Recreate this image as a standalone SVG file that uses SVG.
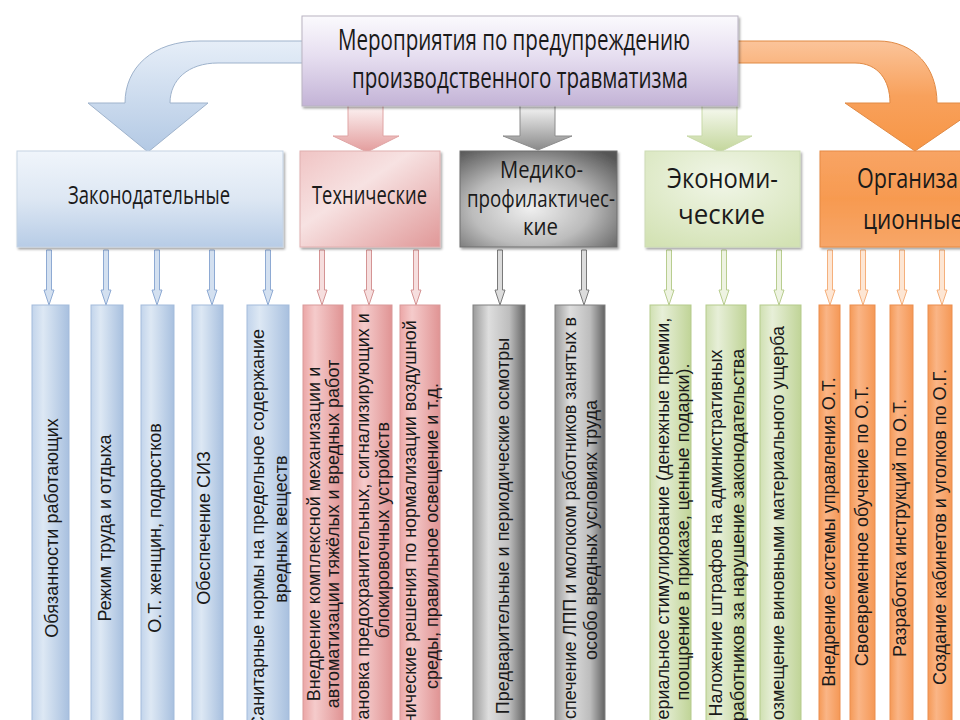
<svg xmlns="http://www.w3.org/2000/svg" width="960" height="720" viewBox="0 0 960 720">
<defs>
<linearGradient id="gTop" x1="0" y1="0" x2="0" y2="1"><stop offset="0" stop-color="#fbfafd"/><stop offset="0.45" stop-color="#e6def0"/><stop offset="1" stop-color="#c3b3d6"/></linearGradient>
<linearGradient id="gBlueHdr" x1="0" y1="0" x2="0" y2="1"><stop offset="0" stop-color="#f0f5fb"/><stop offset="0.5" stop-color="#dde7f3"/><stop offset="1" stop-color="#b7cce6"/></linearGradient>
<linearGradient id="gPinkHdr" x1="0" y1="0" x2="1" y2="1"><stop offset="0" stop-color="#f0c4c4"/><stop offset="0.4" stop-color="#f7e2e2"/><stop offset="1" stop-color="#e09898"/></linearGradient>
<radialGradient id="gGrayHdr" cx="0.45" cy="0.6" r="0.75"><stop offset="0" stop-color="#efefef"/><stop offset="0.5" stop-color="#bcbcbc"/><stop offset="1" stop-color="#555555"/></radialGradient>
<radialGradient id="gGreenHdr" cx="0.5" cy="0.3" r="0.8"><stop offset="0" stop-color="#f1f6e8"/><stop offset="1" stop-color="#d3e2b4"/></radialGradient>
<linearGradient id="gOrangeHdr" x1="0" y1="0" x2="0" y2="1"><stop offset="0" stop-color="#f8a464"/><stop offset="0.5" stop-color="#f79a50"/><stop offset="1" stop-color="#f7a668"/></linearGradient>
<linearGradient id="gBlueCol" x1="0" y1="0" x2="1" y2="0"><stop offset="0" stop-color="#c2d4eb"/><stop offset="0.3" stop-color="#dde8f4"/><stop offset="1" stop-color="#a8c0df"/></linearGradient>
<linearGradient id="gPinkCol" x1="0" y1="0" x2="1" y2="0"><stop offset="0" stop-color="#eba6a6"/><stop offset="0.3" stop-color="#f5cbcb"/><stop offset="1" stop-color="#e09494"/></linearGradient>
<linearGradient id="gGrayCol" x1="0" y1="0" x2="1" y2="0"><stop offset="0" stop-color="#9a9a9a"/><stop offset="0.3" stop-color="#dedede"/><stop offset="0.7" stop-color="#bdbdbd"/><stop offset="1" stop-color="#636363"/></linearGradient>
<linearGradient id="gGreenCol" x1="0" y1="0" x2="1" y2="0"><stop offset="0" stop-color="#d0e0b2"/><stop offset="0.3" stop-color="#e7efd8"/><stop offset="1" stop-color="#c0d497"/></linearGradient>
<linearGradient id="gOrangeCol" x1="0" y1="0" x2="1" y2="0"><stop offset="0" stop-color="#f59a58"/><stop offset="0.35" stop-color="#fab586"/><stop offset="1" stop-color="#f59856"/></linearGradient>
<linearGradient id="gBlueArr" x1="0" y1="0" x2="0" y2="1"><stop offset="0" stop-color="#e6eef8"/><stop offset="1" stop-color="#b3c9e4"/></linearGradient>
<linearGradient id="gOrangeArr" x1="0" y1="0" x2="0" y2="1"><stop offset="0" stop-color="#fbc49a"/><stop offset="0.5" stop-color="#f8a15c"/><stop offset="1" stop-color="#f79646"/></linearGradient>
<linearGradient id="gPinkArr" x1="0" y1="0" x2="0" y2="1"><stop offset="0" stop-color="#fdf6f6"/><stop offset="1" stop-color="#e39c9c"/></linearGradient>
<linearGradient id="gGrayArr" x1="0" y1="0" x2="0" y2="1"><stop offset="0" stop-color="#fafafa"/><stop offset="1" stop-color="#8a8a8a"/></linearGradient>
<linearGradient id="gGreenArr" x1="0" y1="0" x2="0" y2="1"><stop offset="0" stop-color="#f9fbf4"/><stop offset="1" stop-color="#c3d69b"/></linearGradient>
<filter id="sh" x="-10%" y="-10%" width="130%" height="130%"><feDropShadow dx="1.5" dy="2" stdDeviation="1.2" flood-color="#000" flood-opacity="0.35"/></filter>
<style>
.hdr{font-family:"Open Sans","Noto Sans",sans-serif;fill:#1a1a1a;}
.item{font-family:"Liberation Sans",Arial,sans-serif;font-size:18px;fill:#1a1a1a;text-anchor:middle;}
.conB{fill:#d3e0f0;stroke:#8eaad3;stroke-width:1;}
.conP{fill:#f6dede;stroke:#d49494;stroke-width:1;}
.conG{fill:#dcdcdc;stroke:#7a7a7a;stroke-width:1;}
.conE{fill:#eef3e2;stroke:#b8cd8f;stroke-width:1;}
.conO{fill:#fde6d4;stroke:#f5b07c;stroke-width:1;}
.colB{fill:url(#gBlueCol);stroke:#a3bbdb;stroke-width:1;}
.colP{fill:url(#gPinkCol);stroke:#d99a9a;stroke-width:1;}
.colG{fill:url(#gGrayCol);stroke:#808080;stroke-width:1;}
.colE{fill:url(#gGreenCol);stroke:#b5cb8c;stroke-width:1;}
.colO{fill:url(#gOrangeCol);stroke:#eb8e4e;stroke-width:1;}
</style>
</defs>
<rect width="960" height="720" fill="#ffffff"/>

<g id="connectors">
  <path d="M310,41 L200,41 C152,41 125,68 125,103 L88,103 L148,152 L208,103 L170,103 C170,80 188,63 218,63 L310,63 Z" fill="url(#gBlueArr)" stroke="#9fb3cc" stroke-width="1"/>
  <path d="M730,41 L878,41 C915,41 937,68 937,103 L985,103 L915,151 L845,103 L890,103 C890,80 878,63 855,63 L730,63 Z" fill="url(#gOrangeArr)" stroke="#e08a45" stroke-width="1"/>
  <path d="M348,104 L383,104 L383,136 L399,136 L367,152 L333,136 L348,136 Z" fill="url(#gPinkArr)" stroke="#e0a4a4" stroke-width="1"/>
  <path d="M520,104 L555,104 L555,136 L572,136 L538,150 L503,136 L520,136 Z" fill="url(#gGrayArr)" stroke="#8c8c8c" stroke-width="1"/>
  <path d="M702,104 L737,104 L737,136 L752,136 L720,152 L687,136 L702,136 Z" fill="url(#gGreenArr)" stroke="#c8d9a8" stroke-width="1"/>
  <g class="conB">
    <path d="M46.5,250 L51.5,250 L51.5,290 L54,290 L49,305 L44,290 L46.5,290 Z"/>
    <path d="M103.5,250 L108.5,250 L108.5,290 L111,290 L106,305 L101,290 L103.5,290 Z"/>
    <path d="M154.5,250 L159.5,250 L159.5,290 L162,290 L157,305 L152,290 L154.5,290 Z"/>
    <path d="M209.5,250 L214.5,250 L214.5,290 L217,290 L212,305 L207,290 L209.5,290 Z"/>
    <path d="M265.5,250 L270.5,250 L270.5,290 L273,290 L268,305 L263,290 L265.5,290 Z"/>
  </g>
  <g class="conP">
    <path d="M319.5,250 L324.5,250 L324.5,290 L327,290 L322,305 L317,290 L319.5,290 Z"/>
    <path d="M366.5,250 L371.5,250 L371.5,290 L374,290 L369,305 L364,290 L366.5,290 Z"/>
    <path d="M413.5,250 L418.5,250 L418.5,290 L421,290 L416,305 L411,290 L413.5,290 Z"/>
  </g>
  <g class="conG">
    <path d="M497.5,250 L502.5,250 L502.5,290 L505,290 L500,305 L495,290 L497.5,290 Z"/>
    <path d="M581.5,250 L586.5,250 L586.5,290 L589,290 L584,305 L579,290 L581.5,290 Z"/>
  </g>
  <g class="conE">
    <path d="M666.5,250 L671.5,250 L671.5,290 L674,290 L669,305 L664,290 L666.5,290 Z"/>
    <path d="M721.5,250 L726.5,250 L726.5,290 L729,290 L724,305 L719,290 L721.5,290 Z"/>
    <path d="M776.5,250 L781.5,250 L781.5,290 L784,290 L779,305 L774,290 L776.5,290 Z"/>
  </g>
  <g class="conO">
    <path d="M827.5,250 L832.5,250 L832.5,290 L835,290 L830,305 L825,290 L827.5,290 Z"/>
    <path d="M860.5,250 L865.5,250 L865.5,290 L868,290 L863,305 L858,290 L860.5,290 Z"/>
    <path d="M899.5,250 L904.5,250 L904.5,290 L907,290 L902,305 L897,290 L899.5,290 Z"/>
    <path d="M939.5,250 L944.5,250 L944.5,290 L947,290 L942,305 L937,290 L939.5,290 Z"/>
  </g>
</g>

<g id="node-root">
  <rect x="302" y="16" width="436" height="90" fill="url(#gTop)" stroke="#b9b3c2" stroke-width="1" filter="url(#sh)"/>
  <text class="hdr" x="338" y="50" font-size="29" textLength="352" lengthAdjust="spacingAndGlyphs">Мероприятия по предупреждению</text>
  <text class="hdr" x="352" y="88" font-size="29" textLength="336" lengthAdjust="spacingAndGlyphs">производственного травматизма</text>
</g>

<g id="node-legal">
  <rect x="17" y="151" width="266" height="96" fill="url(#gBlueHdr)" stroke="#c5d3e4" stroke-width="1" filter="url(#sh)"/>
  <text class="hdr" x="68" y="204" font-size="25" textLength="162" lengthAdjust="spacingAndGlyphs">Законодательные</text>
</g>
<g id="node-tech">
  <rect x="300" y="151" width="140" height="96" fill="url(#gPinkHdr)" stroke="#e0b0b0" stroke-width="1" filter="url(#sh)"/>
  <text class="hdr" x="312" y="204" font-size="25" textLength="115" lengthAdjust="spacingAndGlyphs">Технические</text>
</g>
<g id="node-med">
  <rect x="460" y="151" width="157" height="96" fill="url(#gGrayHdr)" stroke="#6e6e6e" stroke-width="1" filter="url(#sh)"/>
  <text class="hdr" x="500" y="178" font-size="23" textLength="83" lengthAdjust="spacingAndGlyphs">Медико-</text>
  <text class="hdr" x="467" y="207" font-size="23" textLength="148" lengthAdjust="spacingAndGlyphs">профилактичес-</text>
  <text class="hdr" x="523" y="235" font-size="23" textLength="35" lengthAdjust="spacingAndGlyphs">кие</text>
</g>
<g id="node-econ">
  <rect x="645" y="151" width="155" height="96" fill="url(#gGreenHdr)" stroke="#cddcb5" stroke-width="1" filter="url(#sh)"/>
  <text class="hdr" x="667" y="188" font-size="27" textLength="111" lengthAdjust="spacingAndGlyphs">Экономи-</text>
  <text class="hdr" x="678" y="224" font-size="27" textLength="87" lengthAdjust="spacingAndGlyphs">ческие</text>
</g>
<g id="node-org">
  <rect x="820" y="151" width="150" height="96" fill="url(#gOrangeHdr)" stroke="#e58a45" stroke-width="1" filter="url(#sh)"/>
  <text class="hdr" x="857" y="188" font-size="27" textLength="101" lengthAdjust="spacingAndGlyphs">Организа</text>
  <text class="hdr" x="863" y="229" font-size="27" textLength="100" lengthAdjust="spacingAndGlyphs">ционные</text>
</g>

<g id="node-l1"><rect class="colB" x="32" y="305" width="37" height="430"/><text class="item" transform="translate(52,528) rotate(-90)" y="6">Обязанности работающих</text></g>
<g id="node-l2"><rect class="colB" x="91" y="305" width="32" height="430"/><text class="item" transform="translate(105,528) rotate(-90)" y="6">Режим труда и отдыха</text></g>
<g id="node-l3"><rect class="colB" x="141" y="305" width="33" height="430"/><text class="item" transform="translate(155,528) rotate(-90)" y="6">О.Т. женщин, подростков</text></g>
<g id="node-l4"><rect class="colB" x="192" y="305" width="31" height="430"/><text class="item" transform="translate(204,528) rotate(-90)" y="6">Обеспечение СИЗ</text></g>
<g id="node-l5"><rect class="colB" x="247" y="305" width="42" height="430"/>
  <text class="item" transform="translate(258,529) rotate(-90)" y="6">Санитарные нормы на предельное содержание</text>
  <text class="item" transform="translate(281,529) rotate(-90)" y="6">вредных веществ</text></g>

<g id="node-t1"><rect class="colP" x="303" y="305" width="40" height="430"/>
  <text class="item" transform="translate(314,534) rotate(-90)" y="6">Внедрение комплексной механизации и</text>
  <text class="item" transform="translate(333,534) rotate(-90)" y="6">автоматизации тяжёлых и вредных работ</text></g>
<g id="node-t2"><rect class="colP" x="352" y="305" width="40" height="430"/>
  <text class="item" transform="translate(363,530) rotate(-90)" y="6">Установка предохранительных, сигнализирующих и</text>
  <text class="item" transform="translate(383,530) rotate(-90)" y="6">блокировочных устройств</text></g>
<g id="node-t3"><rect class="colP" x="400" y="305" width="40" height="430"/>
  <text class="item" transform="translate(410,536) rotate(-90)" y="6">Технические решения по нормализации воздушной</text>
  <text class="item" transform="translate(432,536) rotate(-90)" y="6">среды, правильное освещение и т.д.</text></g>

<g id="node-m1"><rect class="colG" x="473" y="305" width="52" height="430"/>
  <text class="item" transform="translate(503,526) rotate(-90)" y="6">Предварительные и периодические осмотры</text></g>
<g id="node-m2"><rect class="colG" x="555" y="305" width="50" height="430"/>
  <text class="item" transform="translate(570,535) rotate(-90)" y="6">Обеспечение ЛПП и молоком работников занятых в</text>
  <text class="item" transform="translate(591,530) rotate(-90)" y="6">особо вредных условиях труда</text></g>

<g id="node-e1"><rect class="colE" x="650" y="305" width="41" height="430"/>
  <text class="item" transform="translate(663,535) rotate(-90)" y="6">Материальное стимулирование (денежные премии,</text>
  <text class="item" transform="translate(683,532) rotate(-90)" y="6">поощрение в приказе, ценные подарки).</text></g>
<g id="node-e2"><rect class="colE" x="706" y="305" width="40" height="430"/>
  <text class="item" transform="translate(716,533) rotate(-90)" y="6">Наложение штрафов на административных</text>
  <text class="item" transform="translate(738,535) rotate(-90)" y="6">работников за нарушение законодательства</text></g>
<g id="node-e3"><rect class="colE" x="760" y="305" width="41" height="430"/>
  <text class="item" transform="translate(778,529) rotate(-90)" y="6">Возмещение виновными материального ущерба</text></g>

<g id="node-o1"><rect class="colO" x="819" y="305" width="21" height="430"/>
  <text class="item" transform="translate(829,532) rotate(-90)" y="6">Внедрение системы управления О.Т.</text></g>
<g id="node-o2"><rect class="colO" x="850" y="305" width="25" height="430"/>
  <text class="item" transform="translate(862,526) rotate(-90)" y="6">Своевременное обучение по О.Т.</text></g>
<g id="node-o3"><rect class="colO" x="890" y="305" width="23" height="430"/>
  <text class="item" transform="translate(900,528) rotate(-90)" y="6">Разработка инструкций по О.Т.</text></g>
<g id="node-o4"><rect class="colO" x="928" y="305" width="24" height="430"/>
  <text class="item" transform="translate(940,527) rotate(-90)" y="6">Создание кабинетов и уголков по О.Г.</text></g>
</svg>
